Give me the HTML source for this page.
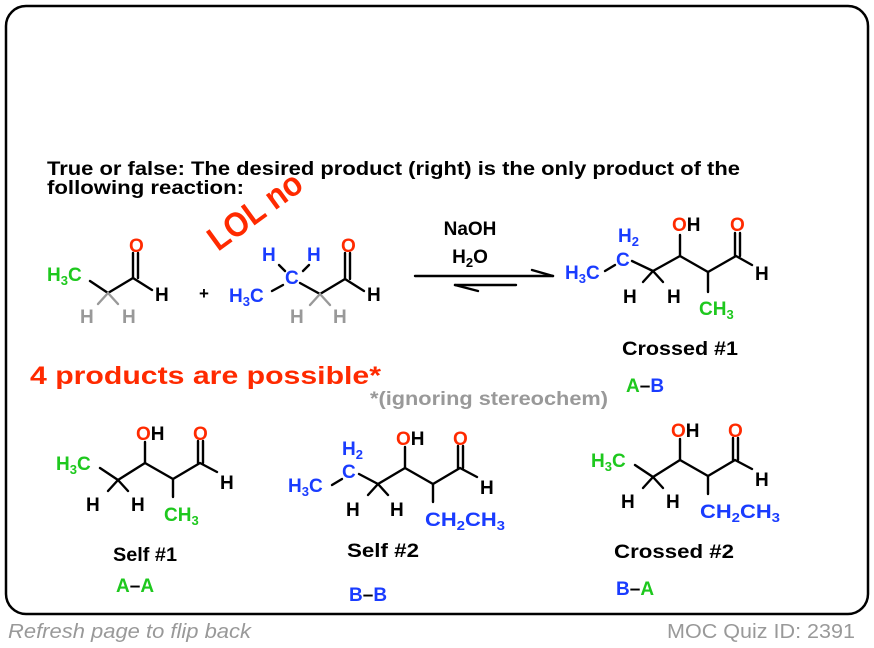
<!DOCTYPE html>
<html><head><meta charset="utf-8"><style>
html,body{margin:0;padding:0;background:#fff;}
svg{display:block;}
text{font-family:"Liberation Sans",sans-serif;font-weight:bold;}
.g{fill:#1ec81e}.b{fill:#1a3cff}.r{fill:#ff2a00}.k{fill:#000}.gr{fill:#999}
line,polyline{stroke:#000;stroke-width:2.4;fill:none;stroke-linecap:round;stroke-linejoin:round}
</style></head><body>
<svg width="874" height="648" viewBox="0 0 874 648" xmlns="http://www.w3.org/2000/svg">
<rect x="6" y="6" width="862" height="608" rx="20" ry="20" fill="#fff" stroke="#000" stroke-width="2.5"/>

<text x="47" y="175" font-size="19" class="k" textLength="693" lengthAdjust="spacingAndGlyphs">True or false: The desired product (right) is the only product of the</text>
<text x="47" y="194" font-size="19" class="k" textLength="197" lengthAdjust="spacingAndGlyphs">following reaction:</text>

<text x="0" y="0" font-size="34" class="r" transform="translate(218,252) rotate(-36)" textLength="108" lengthAdjust="spacingAndGlyphs">LOL no</text>

<!-- reactant 1 -->
<text x="47" y="281" font-size="19" class="g">H<tspan font-size="13" dy="4">3</tspan><tspan dy="-4">C</tspan></text>
<polyline points="90,281 108,293 133,278 152,290"/>
<line x1="133" y1="278" x2="133" y2="253"/><line x1="138" y1="278" x2="138" y2="253"/>
<line x1="108" y1="293" x2="98" y2="304" style="stroke:#999"/><line x1="108" y1="293" x2="118" y2="304" style="stroke:#999"/>
<text x="129" y="252" font-size="19" class="r">O</text>
<text x="155" y="301" font-size="19" class="k">H</text>
<text x="80" y="323" font-size="19" class="gr">H</text>
<text x="122" y="323" font-size="19" class="gr">H</text>
<text x="199" y="299" font-size="17" class="k">+</text>

<!-- reactant 2 -->
<text x="229" y="302" font-size="19" class="b">H<tspan font-size="13" dy="4">3</tspan><tspan dy="-4">C</tspan></text>
<text x="285" y="284" font-size="19" class="b">C</text>
<text x="262" y="261" font-size="19" class="b">H</text>
<text x="307" y="261" font-size="19" class="b">H</text>
<line x1="272" y1="291" x2="283" y2="285"/>
<line x1="279" y1="265" x2="285" y2="271"/><line x1="309" y1="265" x2="303" y2="271"/>
<polyline points="300,283 320,294 345,279 364,291"/>
<line x1="345" y1="279" x2="345" y2="253"/><line x1="350" y1="279" x2="350" y2="253"/>
<line x1="320" y1="294" x2="310" y2="305" style="stroke:#999"/><line x1="320" y1="294" x2="330" y2="305" style="stroke:#999"/>
<text x="341" y="252" font-size="19" class="r">O</text>
<text x="367" y="301" font-size="19" class="k">H</text>
<text x="290" y="323" font-size="19" class="gr">H</text>
<text x="333" y="323" font-size="19" class="gr">H</text>

<!-- arrows -->
<text x="470" y="235" font-size="19" class="k" text-anchor="middle">NaOH</text>
<text x="470" y="263" font-size="19" class="k" text-anchor="middle">H<tspan font-size="13" dy="4">2</tspan><tspan dy="-4">O</tspan></text>
<line x1="415" y1="276" x2="553" y2="276"/><line x1="553" y1="276" x2="532" y2="270"/>
<line x1="455" y1="285" x2="516" y2="285"/><line x1="455" y1="285" x2="478" y2="291"/>

<!-- crossed #1 -->
<text x="565" y="279" font-size="19" class="b">H<tspan font-size="13" dy="4">3</tspan><tspan dy="-4">C</tspan></text>
<text x="616" y="266" font-size="19" class="b">C</text>
<text x="618" y="242" font-size="19" class="b">H<tspan font-size="13" dy="4">2</tspan></text>
<line x1="605" y1="271" x2="615" y2="265"/>
<polyline points="632,261 653,271 680,256 708,272 736,256 752,265"/>
<line x1="680" y1="256" x2="680" y2="235"/>
<line x1="708" y1="272" x2="708" y2="292"/>
<line x1="735" y1="256" x2="735" y2="233"/><line x1="740" y1="256" x2="740" y2="233"/>
<line x1="653" y1="271" x2="643" y2="282"/><line x1="653" y1="271" x2="663" y2="282"/>
<text x="672" y="231" font-size="19"><tspan class="r">O</tspan><tspan class="k">H</tspan></text>
<text x="730" y="231" font-size="19" class="r">O</text>
<text x="755" y="280" font-size="19" class="k">H</text>
<text x="623" y="303" font-size="19" class="k">H</text>
<text x="667" y="303" font-size="19" class="k">H</text>
<text x="699" y="315" font-size="19" class="g">CH<tspan font-size="13" dy="4">3</tspan></text>
<text x="680" y="355" font-size="19" class="k" text-anchor="middle" textLength="116" lengthAdjust="spacingAndGlyphs">Crossed #1</text>
<text x="626" y="392" font-size="19"><tspan class="g">A</tspan><tspan class="k">–</tspan><tspan class="b">B</tspan></text>

<text x="30" y="384" font-size="25" class="r" textLength="351" lengthAdjust="spacingAndGlyphs">4 products are possible*</text>
<text x="370" y="405" font-size="19" class="gr" textLength="238" lengthAdjust="spacingAndGlyphs">*(ignoring stereochem)</text>

<!-- self #1 -->
<g>
<text x="56" y="470" font-size="19" class="g">H<tspan font-size="13" dy="4">3</tspan><tspan dy="-4">C</tspan></text>
<polyline points="100,468 118,480 145,463 173,479 200,463 217,472"/>
<line x1="145" y1="463" x2="145" y2="442"/>
<line x1="173" y1="479" x2="173" y2="497"/>
<line x1="198" y1="463" x2="198" y2="441"/><line x1="203" y1="463" x2="203" y2="441"/>
<line x1="118" y1="480" x2="108" y2="491"/><line x1="118" y1="480" x2="128" y2="491"/>
<text x="136" y="440" font-size="19"><tspan class="r">O</tspan><tspan class="k">H</tspan></text>
<text x="193" y="440" font-size="19" class="r">O</text>
<text x="220" y="489" font-size="19" class="k">H</text>
<text x="86" y="511" font-size="19" class="k">H</text>
<text x="131" y="511" font-size="19" class="k">H</text>
<text x="164" y="521" font-size="19" class="g">CH<tspan font-size="13" dy="4">3</tspan></text>
</g>
<text x="113" y="561" font-size="19" class="k" textLength="64" lengthAdjust="spacingAndGlyphs">Self #1</text>
<text x="116" y="592" font-size="19"><tspan class="g">A</tspan><tspan class="k">–</tspan><tspan class="g">A</tspan></text>

<!-- self #2 -->
<text x="288" y="492" font-size="19" class="b">H<tspan font-size="13" dy="4">3</tspan><tspan dy="-4">C</tspan></text>
<text x="342" y="478" font-size="19" class="b">C</text>
<text x="342" y="455" font-size="19" class="b">H<tspan font-size="13" dy="4">2</tspan></text>
<line x1="332" y1="485" x2="342" y2="479"/>
<polyline points="359,474 378,484 405,468 433,484 460,468 477,477"/>
<line x1="405" y1="468" x2="405" y2="447"/>
<line x1="433" y1="484" x2="433" y2="502"/>
<line x1="458" y1="468" x2="458" y2="446"/><line x1="463" y1="468" x2="463" y2="446"/>
<line x1="378" y1="484" x2="368" y2="495"/><line x1="378" y1="484" x2="388" y2="495"/>
<text x="396" y="445" font-size="19"><tspan class="r">O</tspan><tspan class="k">H</tspan></text>
<text x="453" y="445" font-size="19" class="r">O</text>
<text x="480" y="494" font-size="19" class="k">H</text>
<text x="346" y="516" font-size="19" class="k">H</text>
<text x="390" y="516" font-size="19" class="k">H</text>
<text x="425" y="526" font-size="19" class="b" textLength="80" lengthAdjust="spacingAndGlyphs">CH<tspan font-size="13" dy="4">2</tspan><tspan dy="-4">CH</tspan><tspan font-size="13" dy="4">3</tspan></text>
<text x="347" y="557" font-size="19" class="k" textLength="72" lengthAdjust="spacingAndGlyphs">Self #2</text>
<text x="349" y="601" font-size="19"><tspan class="b">B</tspan><tspan class="k">–</tspan><tspan class="b">B</tspan></text>

<!-- crossed #2 -->
<g transform="translate(535,-3)">
<text x="56" y="470" font-size="19" class="g">H<tspan font-size="13" dy="4">3</tspan><tspan dy="-4">C</tspan></text>
<polyline points="100,468 118,480 145,463 173,479 200,463 217,472"/>
<line x1="145" y1="463" x2="145" y2="442"/>
<line x1="173" y1="479" x2="173" y2="497"/>
<line x1="198" y1="463" x2="198" y2="441"/><line x1="203" y1="463" x2="203" y2="441"/>
<line x1="118" y1="480" x2="108" y2="491"/><line x1="118" y1="480" x2="128" y2="491"/>
<text x="136" y="440" font-size="19"><tspan class="r">O</tspan><tspan class="k">H</tspan></text>
<text x="193" y="440" font-size="19" class="r">O</text>
<text x="220" y="489" font-size="19" class="k">H</text>
<text x="86" y="511" font-size="19" class="k">H</text>
<text x="131" y="511" font-size="19" class="k">H</text>
<text x="165" y="521" font-size="19" class="b" textLength="80" lengthAdjust="spacingAndGlyphs">CH<tspan font-size="13" dy="4">2</tspan><tspan dy="-4">CH</tspan><tspan font-size="13" dy="4">3</tspan></text>
</g>
<text x="614" y="558" font-size="19" class="k" textLength="120" lengthAdjust="spacingAndGlyphs">Crossed #2</text>
<text x="616" y="595" font-size="19"><tspan class="b">B</tspan><tspan class="k">–</tspan><tspan class="g">A</tspan></text>

<text x="8" y="638" font-size="20" fill="#999" style="font-weight:normal;font-style:italic" textLength="243" lengthAdjust="spacingAndGlyphs">Refresh page to flip back</text>
<text x="667" y="638" font-size="20" fill="#999" style="font-weight:normal" textLength="188" lengthAdjust="spacingAndGlyphs">MOC Quiz ID: 2391</text>
</svg>
</body></html>
